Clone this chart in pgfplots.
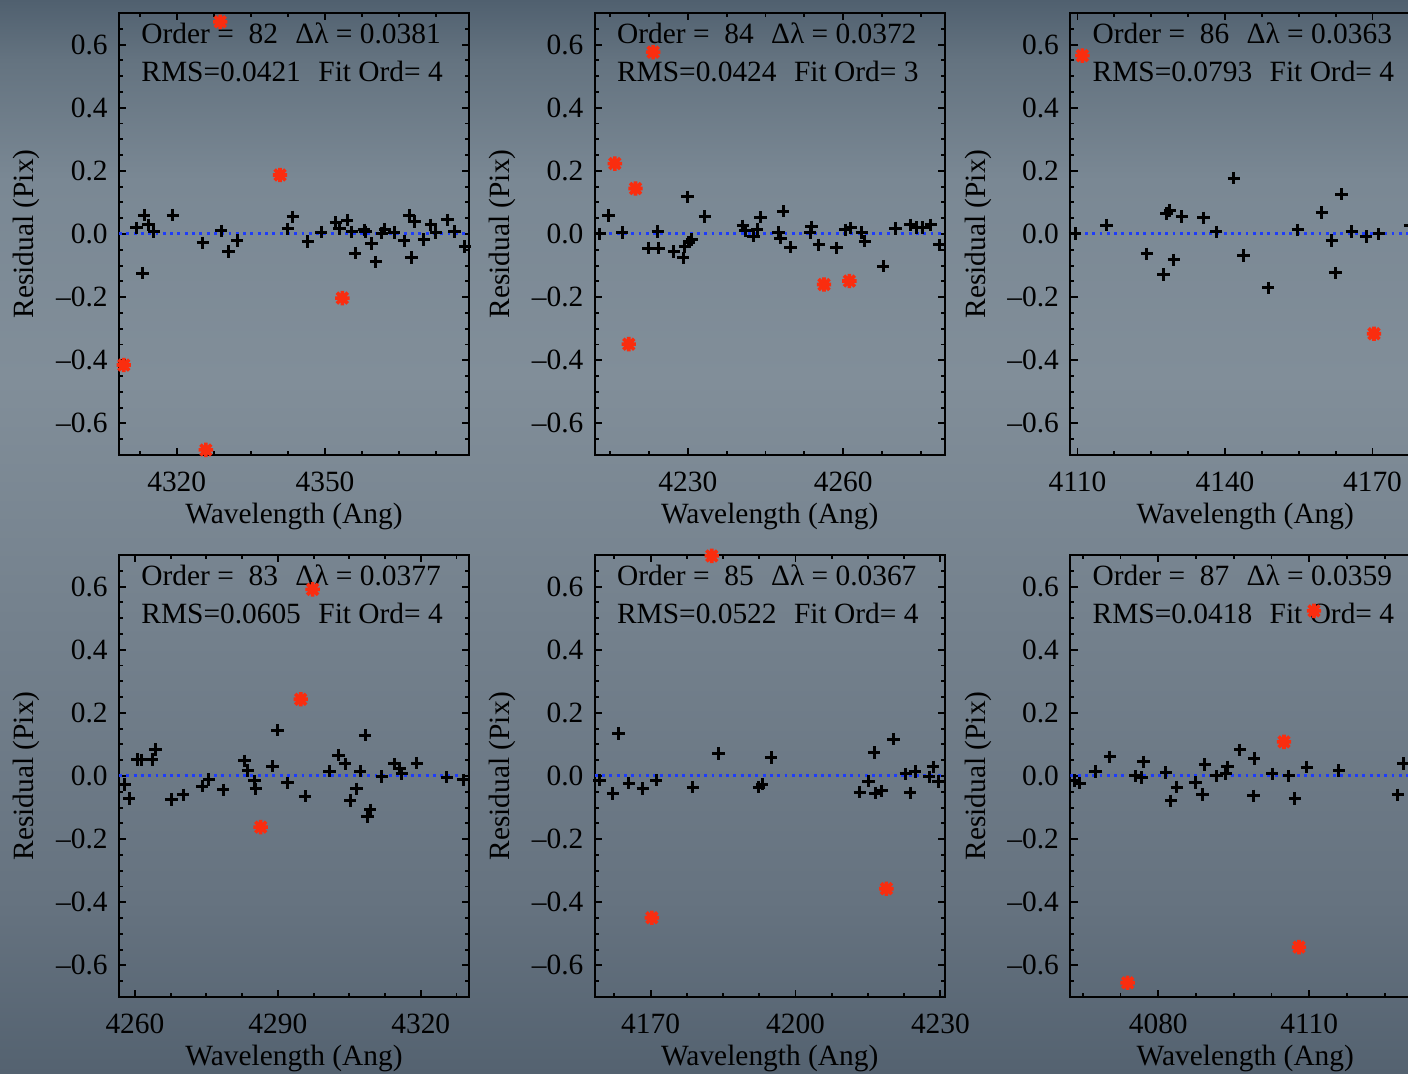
\documentclass[border=0pt]{standalone}
\usepackage{fontspec}
\setmainfont{Liberation Serif}
\usepackage{pgfplots}
\pgfplotsset{compat=1.18}

\newcommand{\fs}{\fontsize{14.7pt}{17pt}\selectfont}

% slate backdrop colours, top to bottom
\definecolor{bgA}{RGB}{80,96,111}
\definecolor{bgB}{RGB}{100,115,128}
\definecolor{bgC}{RGB}{122,136,148}
\definecolor{bgD}{RGB}{129,142,153}
\definecolor{bgE}{RGB}{116,129,141}
\definecolor{bgF}{RGB}{102,115,128}
\definecolor{bgG}{RGB}{84,98,112}
\pgfdeclareverticalshading{slatebg}{100bp}{%
  color(0bp)=(bgG); color(25bp)=(bgG); color(33.1bp)=(bgF);
  color(46.1bp)=(bgE); color(57.3bp)=(bgD); color(66.6bp)=(bgC);
  color(72.2bp)=(bgB); color(75bp)=(bgA); color(100bp)=(bgA)}

\definecolor{rejred}{RGB}{250,45,15}
\definecolor{zeroblue}{RGB}{30,60,250}

% IDL-style asterisk: a plus and a cross on top of each other
\pgfdeclareplotmark{idlast}{%
  \pgfpathmoveto{\pgfqpoint{-\pgfplotmarksize}{0pt}}%
  \pgfpathlineto{\pgfqpoint{\pgfplotmarksize}{0pt}}%
  \pgfpathmoveto{\pgfqpoint{0pt}{-\pgfplotmarksize}}%
  \pgfpathlineto{\pgfqpoint{0pt}{\pgfplotmarksize}}%
  \pgfpathmoveto{\pgfqpoint{-0.75\pgfplotmarksize}{-0.75\pgfplotmarksize}}%
  \pgfpathlineto{\pgfqpoint{0.75\pgfplotmarksize}{0.75\pgfplotmarksize}}%
  \pgfpathmoveto{\pgfqpoint{-0.75\pgfplotmarksize}{0.75\pgfplotmarksize}}%
  \pgfpathlineto{\pgfqpoint{0.75\pgfplotmarksize}{-0.75\pgfplotmarksize}}%
  \pgfusepathqstroke}

\tikzset{info/.style={anchor=base west, inner sep=0pt, font=\fs}}

\pgfplotsset{
  panel/.style={
    scale only axis, width=175pt, height=221pt,
    ymin=-0.7, ymax=0.7,
    ytick={-0.6,-0.4,-0.2,0,0.2,0.4,0.6},
    yticklabels={–0.6,–0.4,–0.2,0.0,0.2,0.4,0.6},
    minor ytick={-0.7,-0.65,...,0.71},
    xtick={4050,4080,...,4380},
    minor xtick={4050,4057.5,...,4390},
    tick align=inside,
    major tick length=3.6pt, minor tick length=1.9pt,
    tick style={line width=0.95pt, black},
    axis line style={line width=1.05pt, black},
    tick label style={font=\fs},
    /pgf/number format/1000 sep={},
    /pgf/number format/assume math mode=true,
    xticklabel style={inner sep=0pt, anchor=north, yshift=-8.5pt},
    yticklabel style={inner sep=0pt, anchor=east, xshift=-5.5pt},
    xlabel={Wavelength (Ang)}, ylabel={Residual (Pix)},
    label style={font=\fs},
    xlabel style={at={(axis description cs:0.5,-0.1086)}, anchor=north, inner sep=0pt},
    ylabel style={at={(axis description cs:-0.2243,0.5)}, anchor=south, inner sep=0pt},
    anchor=south west,
  },
  kept/.style={only marks, mark=+, mark size=3.1pt, mark options={line width=1.5pt, black}},
  rejected/.style={only marks, mark=idlast, mark size=3.6pt, mark options={line width=1.8pt, rejred}},
  zeroline/.style={zeroblue, line width=1.5pt, dash pattern=on 1.45pt off 2.2pt},
}

% header text of one panel: order, dispersion, rms, fit order
\newcommand{\header}[4]{%
  \node[info] at (axis description cs:0.0629,0.9299) {Order =\ \ #1};
  \node[info] at (axis description cs:0.5029,0.9299) {Δλ = #2};
  \node[info] at (axis description cs:0.0629,0.8439) {RMS=#3};
  \node[info] at (axis description cs:0.5686,0.8439) {Fit Ord= #4};
}

\begin{document}
\begin{tikzpicture}
\useasboundingbox (0,0) rectangle (704pt,537pt);
\clip (0,0) rectangle (704pt,537pt);
\shade[shading=slatebg] (0,0) rectangle (704pt,537pt);

% ---------------- order 82 ----------------
\begin{axis}[panel, at={(59.5pt,309.5pt)}, xmin=4308.33, xmax=4379.12]
\addplot[zeroline] coordinates {(4308.33,0) (4379.12,0)};
\addplot[kept] coordinates {
(4311.9,0.019)(4313.4,0.060)(4314.3,0.029)(4315.4,0.007)(4313.1,-0.124)
(4319.2,0.060)(4325.3,-0.028)(4329.0,0.010)(4330.5,-0.055)(4332.2,-0.020)
(4342.5,0.016)(4343.5,0.054)(4346.5,-0.024)(4349.2,0.006)(4352.2,0.037)
(4352.9,0.016)(4354.5,0.044)(4355.4,0.007)(4356.1,-0.061)(4357.9,0.013)
(4358.2,0.007)(4359.4,-0.030)(4360.3,-0.088)(4361.5,0.003)(4362.1,0.015)
(4364.0,0.005)(4366.0,-0.022)(4367.0,0.058)(4367.5,-0.074)(4368.1,0.040)
(4370.0,-0.018)(4371.4,0.029)(4372.4,0.005)(4374.8,0.045)(4376.2,0.008)
(4378.3,-0.039)};
\addplot[rejected] coordinates {
(4328.8,0.672)(4340.9,0.187)(4353.5,-0.203)(4309.3,-0.415)(4325.9,-0.684)};
\header{82}{0.0381}{0.0421}{4}
\end{axis}

% ---------------- order 84 ----------------
\begin{axis}[panel, at={(297.35pt,309.5pt)}, xmin=4212.02, xmax=4279.60]
\addplot[zeroline] coordinates {(4212.02,0) (4279.60,0)};
\addplot[kept] coordinates {
(4213.0,0.000)(4214.7,0.058)(4217.3,0.005)(4222.4,-0.045)(4224.2,0.008)
(4224.4,-0.045)(4227.3,-0.056)(4229.1,-0.076)(4229.4,-0.040)(4229.9,0.118)
(4230.2,-0.026)(4230.8,-0.017)(4233.3,0.055)(4240.6,0.026)(4241.1,0.011)
(4242.7,-0.007)(4243.4,0.015)(4244.0,0.053)(4247.5,0.005)(4247.9,-0.013)
(4248.4,0.072)(4249.8,-0.042)(4253.6,0.005)(4253.9,0.023)(4255.3,-0.034)
(4258.7,-0.044)(4260.4,0.013)(4261.4,0.019)(4263.6,0.005)(4264.2,-0.023)
(4267.7,-0.102)(4270.1,0.018)(4272.9,0.029)(4274.2,0.021)(4275.3,0.021)
(4276.9,0.029)(4278.5,-0.034)};
\addplot[rejected] coordinates {
(4215.9,0.223)(4219.9,0.144)(4256.3,-0.160)(4261.2,-0.149)(4223.3,0.576)(4218.6,-0.349)};
\header{84}{0.0372}{0.0424}{3}
\end{axis}

% ---------------- order 86 ----------------
\begin{axis}[panel, at={(535.15pt,309.5pt)}, xmin=4108.54, xmax=4179.72]
\addplot[zeroline] coordinates {(4108.54,0) (4179.72,0)};
\addplot[kept] coordinates {
(4109.5,0.002)(4115.9,0.028)(4124.1,-0.063)(4127.5,-0.128)(4128.1,0.065)
(4128.8,0.074)(4129.6,-0.082)(4131.2,0.056)(4135.6,0.051)(4138.2,0.007)
(4141.8,0.177)(4143.8,-0.068)(4148.8,-0.171)(4154.8,0.013)(4159.7,0.068)
(4161.7,-0.021)(4162.5,-0.123)(4163.7,0.126)(4165.8,0.008)(4168.7,-0.008)
(4171.3,0.000)(4177.6,0.028)};
\addplot[rejected] coordinates {(4111.0,0.565)(4170.3,-0.316)};
\header{86}{0.0363}{0.0793}{4}
\end{axis}

% ---------------- order 83 ----------------
\begin{axis}[panel, at={(59.5pt,38.5pt)}, xmin=4256.66, xmax=4330.12]
\addplot[zeroline] coordinates {(4256.66,0) (4330.12,0)};
\addplot[kept] coordinates {
(4257.8,-0.027)(4258.8,-0.071)(4260.5,0.052)(4261.4,0.051)(4263.6,0.052)
(4264.3,0.084)(4267.7,-0.074)(4270.1,-0.060)(4274.1,-0.032)(4275.5,-0.011)
(4278.5,-0.044)(4283.0,0.048)(4283.7,0.017)(4285.1,-0.015)(4285.4,-0.041)
(4288.9,0.031)(4289.9,0.145)(4292.0,-0.022)(4295.7,-0.064)(4300.8,0.015)
(4302.7,0.066)(4304.1,0.038)(4305.2,-0.078)(4306.5,-0.041)(4307.3,0.015)
(4308.3,0.129)(4308.8,-0.128)(4309.4,-0.107)(4311.8,-0.001)(4314.4,0.038)
(4315.5,0.025)(4316.0,0.008)(4319.2,0.041)(4325.5,-0.004)(4328.9,-0.012)};
\addplot[rejected] coordinates {(4297.3,0.591)(4294.8,0.243)(4286.4,-0.162)};
\header{83}{0.0377}{0.0605}{4}
\end{axis}

% ---------------- order 85 ----------------
\begin{axis}[panel, at={(297.35pt,38.5pt)}, xmin=4158.43, xmax=4230.89]
\addplot[zeroline] coordinates {(4158.43,0) (4230.89,0)};
\addplot[kept] coordinates {
(4159.46,-0.013)(4162.21,-0.056)(4163.39,0.134)(4165.52,-0.023)(4168.41,-0.039)
(4171.18,-0.013)(4178.74,-0.035)(4184.05,0.071)(4192.38,-0.035)(4193.08,-0.026)
(4194.94,0.058)(4213.33,-0.051)(4215.10,-0.016)(4216.28,0.074)(4216.49,-0.054)
(4217.79,-0.047)(4220.27,0.117)(4222.83,0.007)(4223.72,-0.053)(4224.75,0.014)
(4227.64,-0.003)(4228.47,0.029)(4229.57,-0.018)};
\addplot[rejected] coordinates {(4170.27,-0.449)(4218.82,-0.357)(4182.67,0.697)};
\header{85}{0.0367}{0.0522}{4}
\end{axis}

% ---------------- order 87 ----------------
\begin{axis}[panel, at={(535.15pt,38.5pt)}, xmin=4062.52, xmax=4132.06]
\addplot[zeroline] coordinates {(4062.52,0) (4132.06,0)};
\addplot[kept] coordinates {
(4063.45,-0.014)(4064.44,-0.023)(4067.56,0.014)(4070.40,0.061)(4075.51,0.000)
(4076.70,-0.005)(4077.10,0.045)(4081.53,0.011)(4082.52,-0.079)(4083.66,-0.035)
(4087.43,-0.021)(4088.82,-0.058)(4089.28,0.037)(4091.60,0.000)(4093.45,0.007)
(4093.79,0.029)(4096.23,0.083)(4098.88,-0.063)(4099.07,0.056)(4102.65,0.007)
(4105.97,0.000)(4107.16,-0.071)(4109.49,0.028)(4115.90,0.018)(4127.57,-0.060)
(4128.68,0.039)};
\addplot[rejected] coordinates {(4104.98,0.108)(4110.94,0.523)(4107.96,-0.542)(4073.92,-0.655)};
\header{87}{0.0359}{0.0418}{4}
\end{axis}
\end{tikzpicture}
\end{document}
